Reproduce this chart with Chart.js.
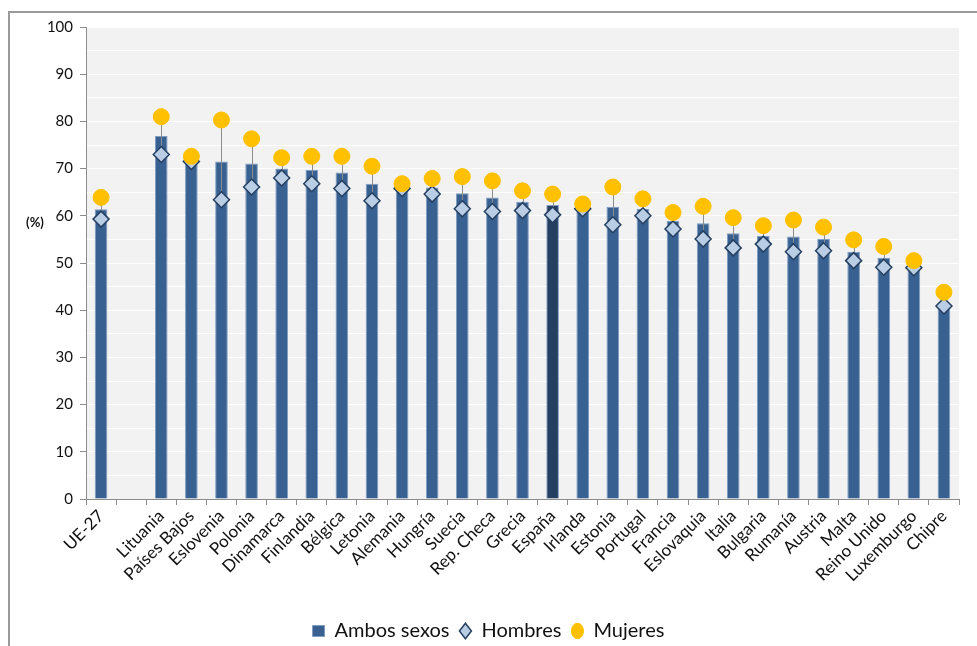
<!DOCTYPE html>
<html>
<head>
<meta charset="utf-8">
<script src="https://cdn.jsdelivr.net/npm/chart.js@4/dist/chart.umd.min.js"></script>
<style>
  html, body { margin: 0; padding: 0; background: #fff; }
  #wrap { position: relative; width: 977px; height: 646px; overflow: hidden; }
  #frame {
    position: absolute; left: 8px; top: 11px; width: 1000px; height: 700px;
    border-top: 2px solid #9a9a9a; border-left: 2px solid #9a9a9a;
    pointer-events: none;
  }
</style>
</head>
<body>
<div id="wrap">
  <canvas id="chart" width="977" height="646"></canvas>
  <div id="frame"></div>
</div>
<script>
// --- Data ---
const categories = ['UE-27', '', 'Lituania', 'Países Bajos', 'Eslovenia', 'Polonia', 'Dinamarca',
    'Finlandia', 'Bélgica', 'Letonia', 'Alemania', 'Hungría', 'Suecia', 'Rep. Checa', 'Grecia',
    'España', 'Irlanda', 'Estonia', 'Portugal', 'Francia', 'Eslovaquia', 'Italia', 'Bulgaria',
    'Rumanía', 'Austria', 'Malta', 'Reino Unido', 'Luxemburgo', 'Chipre'];

const ambosSexos = [61.4, null, 76.9, 72.0, 71.5, 71.1, 70.0, 69.7, 69.2, 66.8, 66.2, 66.0, 64.8,
    63.9, 63.0, 62.3, 61.9, 61.9, 61.5, 58.9, 58.4, 56.3, 55.7, 55.6, 55.1, 52.4, 51.1, 49.3, 41.6];

const hombres = [59.3, null, 73.0, 71.5, 63.4, 66.1, 68.0, 66.8, 65.8, 63.2, 65.8, 64.6, 61.5,
    60.9, 61.1, 60.2, 61.5, 58.1, 60.0, 57.2, 55.1, 53.2, 54.0, 52.4, 52.6, 50.5, 49.1, 49.0, 40.9];

const mujeres = [63.9, null, 81.0, 72.6, 80.3, 76.3, 72.3, 72.6, 72.6, 70.5, 66.8, 67.9, 68.3,
    67.4, 65.3, 64.6, 62.5, 66.1, 63.6, 60.7, 62.0, 59.6, 57.9, 59.1, 57.6, 54.9, 53.5, 50.5, 43.8];

const yTicks = [0, 10, 20, 30, 40, 50, 60, 70, 80, 90, 100];

const FONT = 'Lato, "Open Sans", sans-serif';

// --- Plugins ---
// thin grey line between Hombres and Mujeres (Excel high-low line)
const hiLoLines = {
    id: 'hiLoLines',
    afterDatasetDraw(chart, args) {
        if (args.index !== 0) return;
        const { ctx } = chart;
        const x = chart.scales.x;
        const y = chart.scales.y;
        ctx.save();
        ctx.strokeStyle = '#8c8c8c';
        ctx.lineWidth = 1;
        hombres.forEach((h, i) => {
            const m = mujeres[i];
            if (h == null || m == null) return;
            const px = Math.round(x.getPixelForValue(i)) + 0.5;
            ctx.beginPath();
            ctx.moveTo(px, y.getPixelForValue(h));
            ctx.lineTo(px, y.getPixelForValue(m));
            ctx.stroke();
        });
        ctx.restore();
    }
};

const unitLabel = {
    id: 'unitLabel',
    afterDraw(chart) {
        const { ctx } = chart;
        ctx.save();
        ctx.font = 'bold 13px ' + FONT;
        ctx.fillStyle = '#111';
        ctx.textAlign = 'center';
        ctx.textBaseline = 'middle';
        ctx.fillText('(%)', 35, chart.scales.y.getPixelForValue(58.5));
        ctx.restore();
    }
};

// --- Chart ---
const ctx = document.getElementById('chart').getContext('2d');
new Chart(ctx, {
    type: 'bar',
    data: {
        labels: categories,
        datasets: [{
            type: 'bar',
            label: 'Ambos sexos',
            data: ambosSexos,
            order: 3,
            backgroundColor: (c) => categories[c.dataIndex] === 'España' ? '#243f60' : '#386192',
            borderColor: '#7f9cc2',
            borderWidth: 1,
            barPercentage: 0.42,
            categoryPercentage: 1,
            pointStyle: 'rect'
        }, {
            type: 'line',
            label: 'Hombres',
            data: hombres,
            order: 2,
            showLine: false,
            pointStyle: 'rectRot',
            pointRadius: 8,
            pointHoverRadius: 8,
            backgroundColor: '#b9cde5',
            borderColor: '#243f60',
            borderWidth: 1.5
        }, {
            type: 'line',
            label: 'Mujeres',
            data: mujeres,
            order: 1,
            showLine: false,
            pointStyle: 'circle',
            pointRadius: 8,
            pointHoverRadius: 8,
            backgroundColor: '#ffc000',
            borderColor: '#ffc000',
            borderWidth: 1
        }]
    },
    options: {
        responsive: false,
        animation: false,
        layout: { padding: { left: 18, right: 18, top: 27, bottom: -5 } },
        scales: {
            x: {
                offset: true,
                grid: {
                    offset: true,
                    drawOnChartArea: false,
                    color: '#8c8c8c',
                    tickLength: 6
                },
                border: { color: '#8c8c8c', width: 1 },
                ticks: {
                    autoSkip: false,
                    maxRotation: 45,
                    minRotation: 45,
                    padding: 1,
                    color: '#111',
                    font: { family: FONT, size: 17 }
                },
                afterFit(s) {
                    s.height = 112;
                    s.paddingLeft = 0;
                    s.paddingRight = 0;
                }
            },
            y: {
                min: 0,
                max: 100,
                grid: {
                    color: '#ffffff',
                    lineWidth: 1,
                    tickLength: 6,
                    tickColor: (c) => (c.tick && c.tick.value % 10 === 0) ? '#8c8c8c' : 'rgba(0,0,0,0)'
                },
                border: { color: '#8c8c8c', width: 1 },
                ticks: {
                    stepSize: 5,
                    padding: 7,
                    color: '#111',
                    font: { family: FONT, size: 15 },
                    callback: (v) => yTicks.includes(v) ? String(v) : ''
                },
                afterFit(s) {
                    s.width = 68;
                    s.paddingTop = 0;
                    s.paddingBottom = 0;
                }
            }
        },
        plugins: {
            legend: {
                position: 'bottom',
                labels: {
                    usePointStyle: true,
                    pointStyleWidth: 12,
                    boxHeight: 11,
                    padding: 10,
                    color: '#111',
                    font: { family: FONT, size: 20 },
                    sort: (a, b) => a.datasetIndex - b.datasetIndex
                }
            },
            tooltip: { enabled: false }
        }
    },
    plugins: [hiLoLines, unitLabel, {
        id: 'plotBg',
        beforeDraw(chart) {
            const a = chart.chartArea;
            chart.ctx.save();
            chart.ctx.fillStyle = '#f2f2f2';
            chart.ctx.fillRect(a.left, a.top, a.right - a.left, a.bottom - a.top);
            chart.ctx.restore();
        }
    }]
});
</script>
</body>
</html>
